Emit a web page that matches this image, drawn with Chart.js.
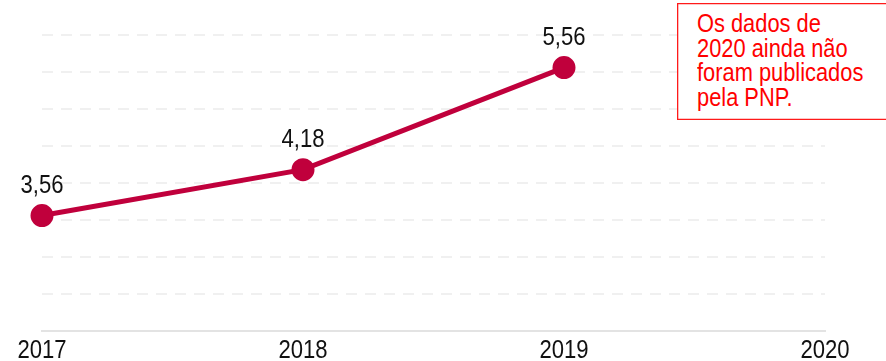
<!DOCTYPE html>
<html>
<head>
<meta charset="utf-8">
<script src="https://cdn.jsdelivr.net/npm/chart.js@4/dist/chart.umd.min.js"></script>
<style>
  html, body { margin: 0; padding: 0; background: #fff; }
  #wrap { position: relative; width: 886px; height: 361px; overflow: hidden; }
  #nota {
    position: absolute; left: 677px; top: 3px; width: 212px; height: 117px;
    box-shadow: inset 0 0 0 1.3px #ff1a1a;
    box-sizing: border-box; background: #fff;
    color: #f00; font-family: "Liberation Sans", sans-serif;
    font-size: 26px; line-height: 24.7px; padding: 8px 0 0 20px;
  }
  #nota span { display: inline-block; transform: scaleX(0.84); transform-origin: 0 0; white-space: nowrap; }
</style>
</head>
<body>
<div id="wrap">
  <canvas id="grafico" width="886" height="361"></canvas>
  <div id="nota"><span>Os dados de<br>2020 ainda não<br>foram publicados<br>pela PNP.</span></div>
</div>
<script>
const anos = ['2017', '2018', '2019', '2020'];
const valores = [3.56, 4.18, 5.56, null];
const rotulos = ['3,56', '4,18', '5,56', ''];
const fonte = '"Liberation Sans", sans-serif';

// texto condensado: fonte normal comprimida na horizontal
function textoEstreito(ctx, txt, x, y) {
    ctx.save();
    ctx.translate(x, y);
    ctx.scale(0.85, 1);
    ctx.fillText(txt, 0, 0);
    ctx.restore();
}

// valores acima dos pontos e anos embaixo do eixo
const textos = {
    id: 'textos',
    afterDatasetsDraw(chart) {
        const ctx = chart.ctx;
        const meta = chart.getDatasetMeta(0);
        const xs = chart.scales.x;
        ctx.save();
        ctx.font = '26px ' + fonte;
        ctx.fillStyle = '#111';
        ctx.textAlign = 'center';
        ctx.textBaseline = 'alphabetic';
        meta.data.forEach((pt, i) => {
            if (valores[i] === null) return;
            textoEstreito(ctx, rotulos[i], pt.x, pt.y - 23);
        });
        anos.forEach((a, i) => {
            textoEstreito(ctx, a, xs.getPixelForTick(i), chart.chartArea.bottom + 27);
        });
        ctx.restore();
    }
};

new Chart(document.getElementById('grafico'), {
    type: 'line',
    data: {
        labels: anos,
        datasets: [{
            data: valores,
            borderColor: '#c0003c',
            backgroundColor: '#c0003c',
            borderWidth: 5,
            pointRadius: 9,
            pointHoverRadius: 9,
            tension: 0
        }]
    },
    options: {
        responsive: false,
        animation: false,
        layout: { padding: { left: 42, right: 61, top: 35, bottom: 30 } },
        plugins: { legend: { display: false }, tooltip: { enabled: false } },
        scales: {
            x: {
                offset: false,
                grid: { display: false, drawTicks: false },
                border: { display: true, color: '#e3e3e3', width: 2 },
                ticks: { display: false }
            },
            y: {
                min: 2,
                max: 6,
                ticks: { display: false, stepSize: 0.5 },
                grid: {
                    drawTicks: false,
                    color: c => c.tick.value === 2 ? 'rgba(0,0,0,0)' : '#f0f0f0',
                    lineWidth: 2
                },
                border: { display: false, dash: [11, 8] }
            }
        }
    },
    plugins: [textos]
});
</script>
</body>
</html>
